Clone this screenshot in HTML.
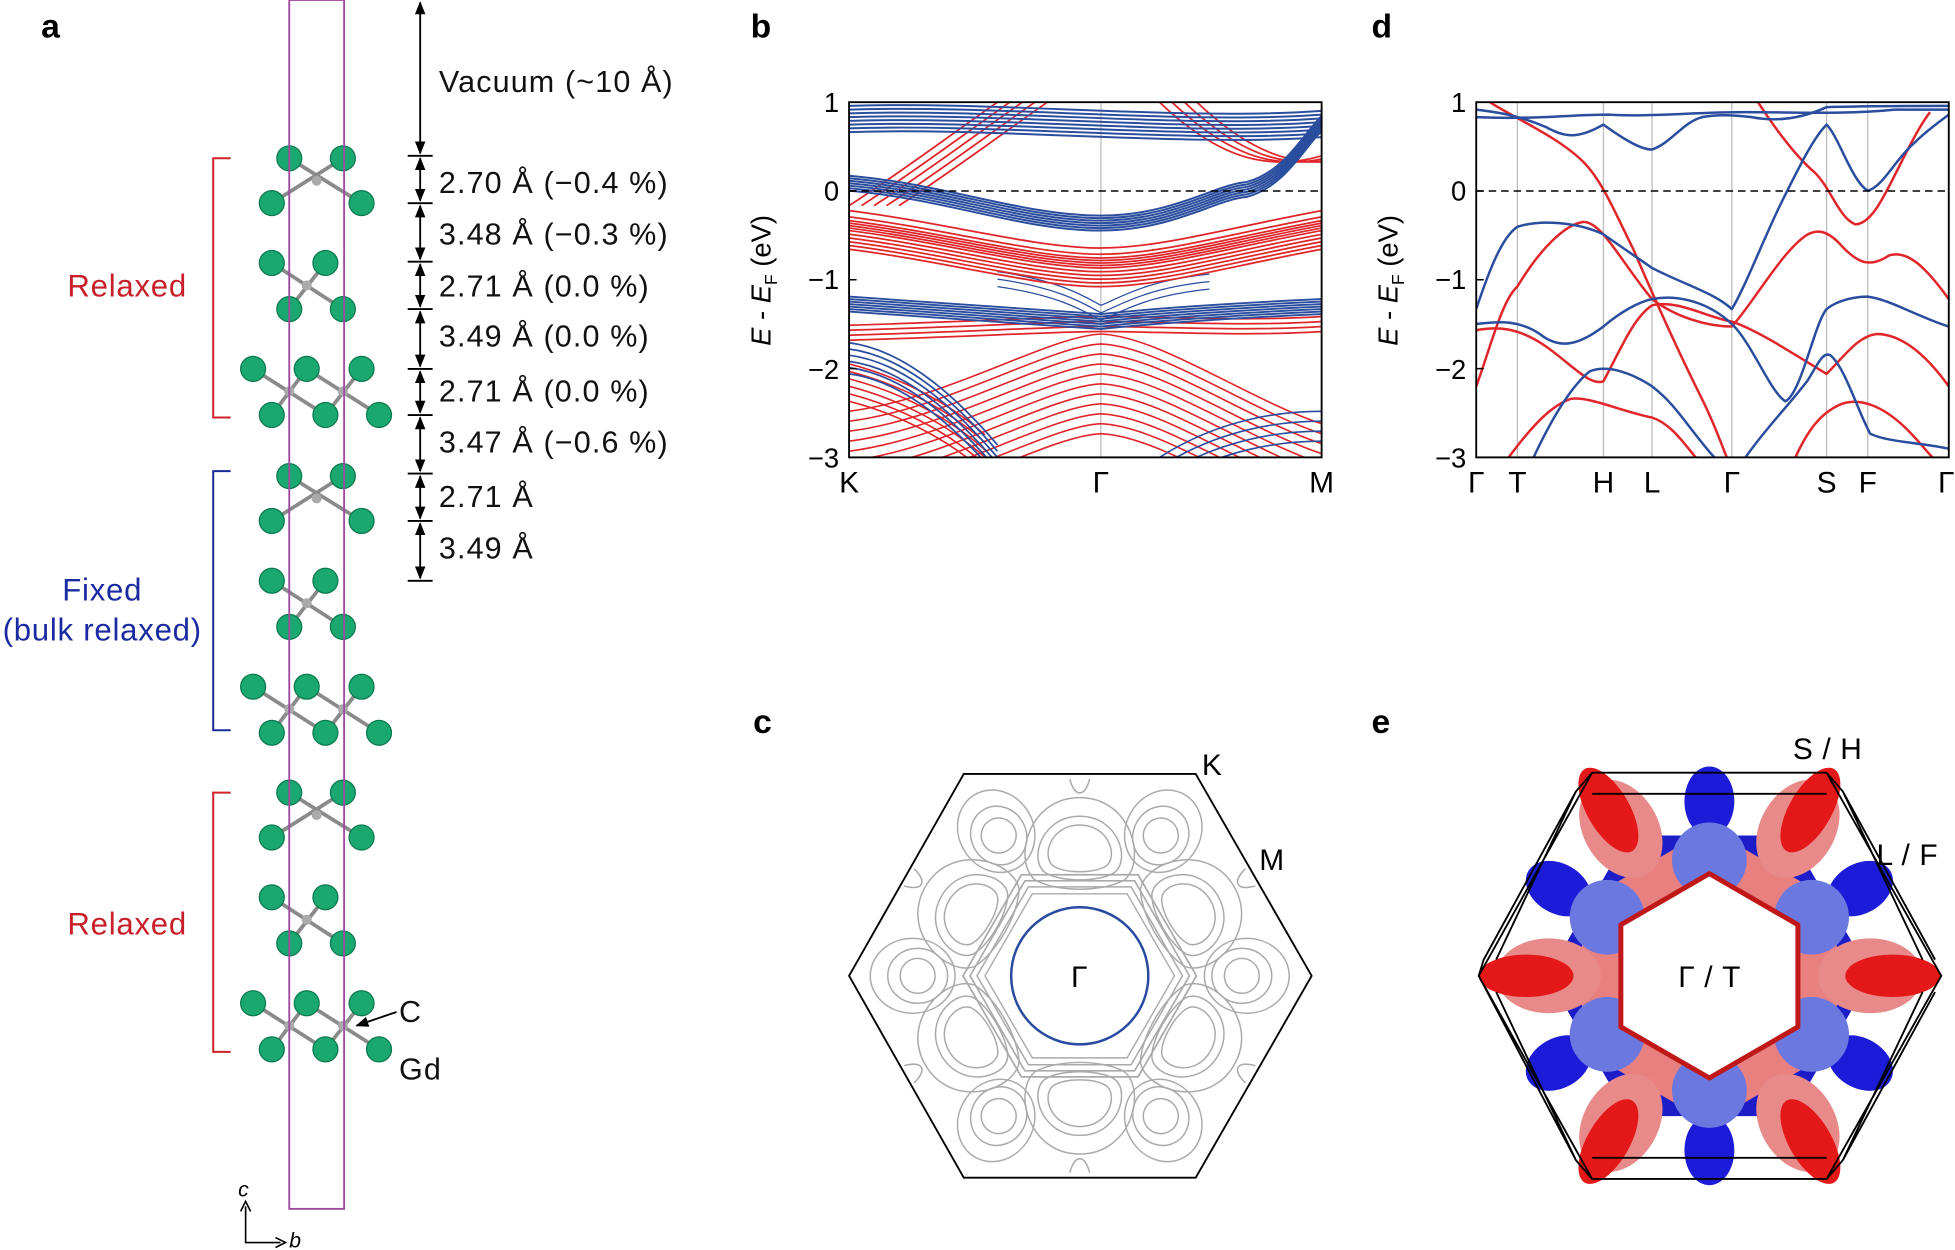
<!DOCTYPE html>
<html><head><meta charset="utf-8"><style>
html,body{margin:0;padding:0;background:#fff;}
svg{display:block;font-family:"Liberation Sans",sans-serif;}
</style></head><body>
<svg width="1955" height="1250" viewBox="0 0 1568 1003" preserveAspectRatio="none" xmlns="http://www.w3.org/2000/svg">
<defs>
<marker id="ah" viewBox="0 0 10 10" refX="9" refY="5" markerWidth="7" markerHeight="7" orient="auto-start-reverse"><path d="M0,1 L10,5 L0,9z" fill="#000"/></marker>
<clipPath id="cb"><rect x="681" y="82" width="379" height="285"/></clipPath>
<clipPath id="cd"><rect x="1184" y="82" width="379" height="285"/></clipPath>
<g id="LS">
 <g stroke="#8a8a8a" stroke-width="3">
  <line x1="232" y1="0" x2="290" y2="36"/><line x1="275" y1="0" x2="218" y2="36"/>
  <line x1="218" y1="84" x2="275" y2="121"/><line x1="261" y1="84" x2="232" y2="121"/>
  <line x1="203" y1="169" x2="261" y2="206"/><line x1="246" y1="169" x2="304" y2="206"/>
  <line x1="246" y1="169" x2="218" y2="206"/><line x1="290" y1="169" x2="261" y2="206"/>
 </g>
 <g fill="#aaa"><circle cx="254" cy="18" r="4"/><circle cx="246" cy="102" r="4"/><circle cx="232" cy="187" r="4"/><circle cx="275" cy="187" r="4"/></g>
 <g fill="#1aa870" stroke="#0c7a4e" stroke-width="1">
  <circle cx="232" cy="0" r="10"/><circle cx="275" cy="0" r="10"/><circle cx="218" cy="36" r="10"/><circle cx="290" cy="36" r="10"/>
  <circle cx="218" cy="84" r="10"/><circle cx="261" cy="84" r="10"/><circle cx="232" cy="121" r="10"/><circle cx="275" cy="121" r="10"/>
  <circle cx="203" cy="169" r="10"/><circle cx="246" cy="169" r="10"/><circle cx="290" cy="169" r="10"/><circle cx="218" cy="206" r="10"/><circle cx="261" cy="206" r="10"/><circle cx="304" cy="206" r="10"/>
 </g>
</g>
<path id="bBlu1" d="M681,143 C760,150 820,175 883,175 C940,175 975,150 1000,148 C1030,140 1045,110 1060,95" fill="none" stroke="#2a4d9e" stroke-width="1.6"/>
<path id="bRed1" d="M681,185 C760,195 830,215 883,215 C930,215 980,200 1060,185" fill="none" stroke="#e0262a" stroke-width="1.4"/>
<path id="bRed2" d="M681,165 C720,140 760,110 800,82" fill="none" stroke="#e0262a" stroke-width="1.4"/>
<path id="bRed3" d="M930,82 C970,120 1010,140 1060,125" fill="none" stroke="#e0262a" stroke-width="1.4"/>
<path id="bBlu2" d="M681,238 C780,245 850,250 883,252 C920,248 990,243 1060,240" fill="none" stroke="#2a4d9e" stroke-width="1.5"/>
<path id="bRed4" d="M681,265 C780,262 850,258 883,258 C930,258 1000,262 1060,258" fill="none" stroke="#e0262a" stroke-width="1.4"/>
<path id="bRed5" d="M681,330 C760,320 840,270 883,268 C930,270 1000,320 1060,340" fill="none" stroke="#e0262a" stroke-width="1.3"/>
<path id="bBlu3" d="M681,285 C720,290 760,320 800,367" fill="none" stroke="#2a4d9e" stroke-width="1.4"/>
<path id="bBlu4" d="M930,367 C980,335 1030,330 1060,330" fill="none" stroke="#2a4d9e" stroke-width="1.3"/>
<path id="bRed6" d="M681,310 C720,320 760,340 790,367" fill="none" stroke="#e0262a" stroke-width="1.3"/>
<path id="bBlu5" d="M681,88 C800,84 950,100 1060,92" fill="none" stroke="#2a4d9e" stroke-width="1.6"/>
<path id="bBlu6" d="M800,218 C850,225 870,238 883,245 C900,238 920,225 970,220" fill="none" stroke="#2a4d9e" stroke-width="1"/>
<path id="hx" d="M946,783 L906,852.3 L826,852.3 L786,783 L826,713.7 L906,713.7Z" fill="none" stroke="#aaa" stroke-width="1.2"/>
</defs>
<rect width="1568" height="1003" fill="#fff"/>
<g font-size="27" font-weight="bold"><text x="33" y="30">a</text><text x="602" y="30">b</text><text x="1100" y="30">d</text><text x="604" y="588">c</text><text x="1100" y="588">e</text></g>

<use href="#LS" transform="translate(0,127)"/>
<use href="#LS" transform="translate(0,382)"/>
<use href="#LS" transform="translate(0,636)"/>
<rect x="232" y="0" width="44" height="970" fill="none" stroke="#a04aa0" stroke-width="1.5"/>
<g stroke="#000" stroke-width="1.5">
<line x1="327" y1="125" x2="347" y2="125"/><line x1="327" y1="163" x2="347" y2="163"/><line x1="327" y1="210" x2="347" y2="210"/><line x1="327" y1="248" x2="347" y2="248"/><line x1="327" y1="296" x2="347" y2="296"/><line x1="327" y1="333" x2="347" y2="333"/><line x1="327" y1="380" x2="347" y2="380"/><line x1="327" y1="418" x2="347" y2="418"/><line x1="327" y1="466" x2="347" y2="466"/>
<g marker-start="url(#ah)" marker-end="url(#ah)">
<line x1="337" y1="2" x2="337" y2="123"/><line x1="337" y1="127" x2="337" y2="161"/><line x1="337" y1="165" x2="337" y2="208"/><line x1="337" y1="212" x2="337" y2="246"/><line x1="337" y1="250" x2="337" y2="294"/><line x1="337" y1="298" x2="337" y2="331"/><line x1="337" y1="335" x2="337" y2="378"/><line x1="337" y1="382" x2="337" y2="416"/><line x1="337" y1="420" x2="337" y2="464"/>
</g></g>
<g font-size="24.5" fill="#111" letter-spacing="0.9">
<text x="352" y="74">Vacuum (~10 Å)</text>
<text x="352" y="155">2.70 Å (−0.4 %)</text>
<text x="352" y="196">3.48 Å (−0.3 %)</text>
<text x="352" y="238">2.71 Å (0.0 %)</text>
<text x="352" y="278">3.49 Å (0.0 %)</text>
<text x="352" y="322">2.71 Å (0.0 %)</text>
<text x="352" y="363">3.47 Å (−0.6 %)</text>
<text x="352" y="407">2.71 Å</text>
<text x="352" y="448">3.49 Å</text>
<text x="320" y="820">C</text><text x="320" y="866">Gd</text>
</g>
<line x1="318" y1="812" x2="286" y2="823" stroke="#000" stroke-width="1.5" marker-end="url(#ah)"/>
<g fill="none" stroke-width="1.6">
<path d="M185,127 H171 V335 H185" stroke="#d0202a"/>
<path d="M185,378 H171 V586 H185" stroke="#1a2a9a"/>
<path d="M185,636 H171 V844 H185" stroke="#d0202a"/>
</g>
<g font-size="25" text-anchor="middle" letter-spacing="0.6"><text x="102" y="238" fill="#c8202a">Relaxed</text><text x="82" y="482" fill="#1a2aa0">Fixed</text><text x="82" y="514" fill="#1a2aa0">(bulk relaxed)</text><text x="102" y="750" fill="#c8202a">Relaxed</text></g>
<g stroke="#000" stroke-width="1.3" fill="none"><path d="M197,968 V997 H225"/><path d="M193,972 l4,-8 l4,8"/><path d="M221,993 l8,4 l-8,4"/></g>
<text x="191" y="960" font-size="17" font-style="italic">c</text><text x="232" y="1001" font-size="17" font-style="italic">b</text>

<g clip-path="url(#cb)">
<line x1="883" y1="82" x2="883" y2="367" stroke="#bbb"/>
<use href="#bRed5"/><use href="#bRed5" y="8"/><use href="#bRed5" y="16"/><use href="#bRed5" y="24"/><use href="#bRed5" y="32"/><use href="#bRed5" y="40"/><use href="#bRed5" y="48"/><use href="#bRed5" y="56"/><use href="#bRed5" y="64"/><use href="#bRed5" y="72"/><use href="#bRed5" y="80"/>
<use href="#bRed6"/><use href="#bRed6" y="6"/><use href="#bRed6" y="12"/><use href="#bRed6" y="-6"/><use href="#bRed6" y="-12"/><use href="#bRed6" y="-18"/>
<use href="#bBlu3"/><use href="#bBlu3" y="5"/><use href="#bBlu3" y="10"/><use href="#bBlu3" y="15"/><use href="#bBlu3" y="-5"/><use href="#bBlu3" y="-10"/>
<use href="#bBlu4"/><use href="#bBlu4" y="8"/><use href="#bBlu4" y="16"/><use href="#bBlu4" y="24"/>
<use href="#bRed4"/><use href="#bRed4" y="4"/><use href="#bRed4" y="8"/><use href="#bRed4" y="-4"/>
<use href="#bBlu6"/><use href="#bBlu6" y="6"/><use href="#bBlu6" y="12"/>
<use href="#bBlu2"/><use href="#bBlu2" y="2"/><use href="#bBlu2" y="4"/><use href="#bBlu2" y="6"/><use href="#bBlu2" y="8"/><use href="#bBlu2" y="10"/><use href="#bBlu2" y="12"/>
<use href="#bRed1" y="-8"/><use href="#bRed1" y="-4"/><use href="#bRed1"/><use href="#bRed1" y="3"/><use href="#bRed1" y="6"/><use href="#bRed1" y="9"/><use href="#bRed1" y="12"/><use href="#bRed1" y="15"/><use href="#bRed1" y="-2"/><use href="#bRed1" y="-6"/><use href="#bRed1" y="-11"/><use href="#bRed1" y="-16"/>
<use href="#bRed2"/><use href="#bRed2" x="10"/><use href="#bRed2" x="20"/><use href="#bRed2" x="30"/><use href="#bRed2" x="40"/>
<use href="#bRed3"/><use href="#bRed3" x="10"/><use href="#bRed3" x="20"/><use href="#bRed3" x="30"/>
<use href="#bBlu1"/><use href="#bBlu1" y="2"/><use href="#bBlu1" y="4"/><use href="#bBlu1" y="6"/><use href="#bBlu1" y="8"/><use href="#bBlu1" y="10"/><use href="#bBlu1" y="-2"/>
<use href="#bBlu5"/><use href="#bBlu5" y="3"/><use href="#bBlu5" y="6"/><use href="#bBlu5" y="9"/><use href="#bBlu5" y="12"/><use href="#bBlu5" y="15"/><use href="#bBlu5" y="18"/><use href="#bBlu5" y="-3"/>
</g>
<rect x="681" y="82" width="379" height="285" fill="none" stroke="#000" stroke-width="1.5"/>

<g clip-path="url(#cd)" fill="none" stroke-width="2" stroke-linejoin="round">
<g stroke="#bbb" stroke-width="1"><line x1="1217" y1="82" x2="1217" y2="367"/><line x1="1286" y1="82" x2="1286" y2="367"/><line x1="1325" y1="82" x2="1325" y2="367"/><line x1="1389" y1="82" x2="1389" y2="367"/><line x1="1465" y1="82" x2="1465" y2="367"/><line x1="1498" y1="82" x2="1498" y2="367"/></g>
<g stroke="#e0262a">
<path d="M1184,310 C1195,280 1205,240 1217,230 C1235,200 1255,180 1270,178 C1285,178 1300,210 1325,240 C1345,255 1370,262 1389,262 C1405,245 1430,200 1450,188 C1458,184 1465,185 1475,195 C1490,212 1500,215 1515,205 C1530,200 1545,215 1563,240"/>
<path d="M1184,265 C1200,262 1217,262 1240,278 C1260,292 1275,310 1286,306 C1300,280 1310,255 1325,245 C1345,240 1370,255 1389,258 C1410,265 1440,285 1465,300 C1480,285 1490,270 1505,268 C1525,268 1545,285 1563,310"/>
<path d="M1195,82 C1215,95 1250,110 1270,130 C1285,145 1295,170 1310,200 C1325,235 1345,280 1365,320 C1375,340 1380,355 1385,367"/>
<path d="M1210,367 C1230,340 1245,325 1260,320 C1275,318 1300,330 1325,335 C1340,340 1350,355 1360,367"/>
<path d="M1410,82 C1425,105 1440,125 1455,138 C1468,150 1475,175 1488,180 C1500,180 1510,160 1520,140 C1530,120 1540,100 1548,90"/>
<path d="M1440,367 C1450,345 1460,332 1475,325 C1490,318 1510,325 1530,345 C1540,355 1545,362 1550,367"/>
</g>
<g stroke="#2a4d9e">
<path d="M1184,248 C1195,215 1205,190 1217,182 C1235,176 1265,178 1286,188 C1300,198 1315,208 1325,215 C1350,228 1375,235 1389,248 C1400,230 1415,190 1430,160 C1445,130 1455,110 1465,100 C1475,110 1485,145 1498,153 C1510,150 1520,128 1535,115 C1545,105 1555,98 1563,92"/>
<path d="M1184,260 C1200,258 1217,256 1235,268 C1250,280 1265,278 1286,262 C1300,250 1315,242 1325,240 C1345,236 1370,242 1389,260 C1405,275 1420,315 1432,322 C1445,315 1455,260 1465,248 C1475,240 1490,238 1498,238 C1515,240 1540,255 1563,262"/>
<path d="M1184,88 C1200,90 1217,92 1240,102 C1255,110 1265,112 1286,100 C1300,110 1315,120 1325,120 C1340,115 1350,98 1365,94 C1375,92 1389,92 1405,94 C1425,98 1445,95 1465,86 C1500,85 1540,85 1563,85"/>
<path d="M1184,94 C1230,96 1260,92 1290,92 C1320,94 1360,90 1400,90 C1440,90 1480,92 1520,88 C1540,88 1555,88 1563,88"/>
<path d="M1230,367 C1245,335 1260,310 1275,298 C1290,292 1310,300 1325,310 C1345,325 1355,345 1375,367"/>
<path d="M1400,367 C1415,345 1435,325 1450,305 C1458,292 1462,282 1468,285 C1480,295 1490,330 1500,348 C1515,355 1540,355 1563,360"/>
</g>
</g>
<rect x="1184" y="82" width="379" height="285" fill="none" stroke="#000" stroke-width="1.5"/>

<g stroke="#000" stroke-width="1.2">
<line x1="681" y1="153.25" x2="1060" y2="153.25" stroke-dasharray="6,4"/>
<line x1="1184" y1="153.25" x2="1563" y2="153.25" stroke-dasharray="6,4"/>
<path d="M681,82h6M681,153.25h6M681,224.5h6M681,295.75h6M681,367h6M1184,82h6M1184,153.25h6M1184,224.5h6M1184,295.75h6M1184,367h6"/>
</g>
<g font-size="22" text-anchor="end">
<text x="673" y="90">1</text><text x="673" y="161">0</text><text x="673" y="232">−1</text><text x="673" y="304">−2</text><text x="673" y="375">−3</text>
<text x="1176" y="90">1</text><text x="1176" y="161">0</text><text x="1176" y="232">−1</text><text x="1176" y="304">−2</text><text x="1176" y="375">−3</text>
</g>
<g font-size="24" text-anchor="middle">
<text x="681" y="395">K</text><text x="883" y="395">Γ</text><text x="1060" y="395">M</text>
<text x="1184" y="395">Γ</text><text x="1217" y="395">T</text><text x="1286" y="395">H</text><text x="1325" y="395">L</text><text x="1389" y="395">Γ</text><text x="1465" y="395">S</text><text x="1498" y="395">F</text><text x="1561" y="395">Γ</text>
</g>
<text transform="translate(618,225) rotate(-90)" font-size="22" text-anchor="middle"><tspan font-style="italic">E</tspan> - <tspan font-style="italic">E</tspan><tspan font-size="14" dy="5">F</tspan><tspan dy="-5"> (eV)</tspan></text>
<text transform="translate(1121,225) rotate(-90)" font-size="22" text-anchor="middle"><tspan font-style="italic">E</tspan> - <tspan font-style="italic">E</tspan><tspan font-size="14" dy="5">F</tspan><tspan dy="-5"> (eV)</tspan></text>

<g fill="none" stroke="#aaa" stroke-width="1.2">
<use href="#hx" transform="translate(866,783) scale(0.95) translate(-866,-783)"/>
<use href="#hx" transform="translate(866,783) scale(1.03) translate(-866,-783)"/>
<use href="#hx" transform="translate(866,783) scale(1.1) translate(-866,-783)"/>
<use href="#hx" transform="translate(866,783) scale(1.17) translate(-866,-783)"/>
<g id="lobe">
<path d="M866,655 C835,655 825,690 838,700 C850,708 882,708 894,700 C907,690 897,655 866,655Z"/>
<path d="M866,662 C842,662 835,688 845,695 C855,701 877,701 887,695 C897,688 890,662 866,662Z"/>
<path d="M866,640 C825,640 812,690 830,706 C848,716 884,716 902,706 C920,690 907,640 866,640Z"/>
<path d="M858,625 C862,640 870,640 874,625"/>
</g>
<use href="#lobe" transform="rotate(60 866 783)"/><use href="#lobe" transform="rotate(120 866 783)"/><use href="#lobe" transform="rotate(180 866 783)"/><use href="#lobe" transform="rotate(240 866 783)"/><use href="#lobe" transform="rotate(300 866 783)"/>
<g id="eg"><ellipse cx="996" cy="783" rx="14" ry="14"/><ellipse cx="996" cy="783" rx="24" ry="22"/><ellipse cx="1000" cy="783" rx="34" ry="30"/></g>
<use href="#eg" transform="rotate(60 866 783)"/><use href="#eg" transform="rotate(120 866 783)"/><use href="#eg" transform="rotate(180 866 783)"/><use href="#eg" transform="rotate(240 866 783)"/><use href="#eg" transform="rotate(300 866 783)"/>
</g>
<path d="M773,621 H959 L1052,783 L959,945 H773 L681,783Z" fill="none" stroke="#000" stroke-width="1.5"/>
<circle cx="866" cy="783" r="55" fill="#fff" stroke="#2a4aa0" stroke-width="2"/>
<g font-size="24"><text x="859" y="792">Γ</text><text x="964" y="622">K</text><text x="1010" y="698">M</text></g>

<path d="M1501,783 L1436,895.6 L1306,895.6 L1241,783 L1306,670.4 L1436,670.4Z" fill="#1c1cc8"/>
<g fill="#1c1cd8">
<ellipse cx="1371" cy="643" rx="20" ry="28"/><ellipse cx="1371" cy="923" rx="20" ry="28"/>
<ellipse cx="1492" cy="713" rx="20" ry="28" transform="rotate(60 1492 713)"/>
<ellipse cx="1492" cy="853" rx="20" ry="28" transform="rotate(120 1492 853)"/>
<ellipse cx="1250" cy="713" rx="20" ry="28" transform="rotate(-60 1250 713)"/>
<ellipse cx="1250" cy="853" rx="20" ry="28" transform="rotate(-120 1250 853)"/>
</g>
<path d="M1473.2,842 L1371,901 L1268.8,842 L1268.8,724 L1371,665 L1473.2,724Z" fill="#e88080"/>
<g fill="#6b78e0">
<circle cx="1453" cy="830" r="30"/><circle cx="1371" cy="875" r="30"/><circle cx="1289" cy="830" r="30"/><circle cx="1289" cy="736" r="30"/><circle cx="1371" cy="690" r="30"/><circle cx="1453" cy="736" r="30"/>
</g>
<g fill="#e88a8a">
<ellipse cx="1500" cy="783" rx="42" ry="30"/><ellipse cx="1242" cy="783" rx="42" ry="30"/>
<ellipse cx="1300" cy="665" rx="42" ry="30" transform="rotate(60 1300 665)"/><ellipse cx="1442" cy="665" rx="42" ry="30" transform="rotate(120 1442 665)"/>
<ellipse cx="1300" cy="901" rx="42" ry="30" transform="rotate(-60 1300 901)"/><ellipse cx="1442" cy="901" rx="42" ry="30" transform="rotate(-120 1442 901)"/>
</g>
<g fill="#e41818">
<ellipse cx="1518" cy="783" rx="38" ry="17"/><ellipse cx="1224" cy="783" rx="38" ry="17"/>
<ellipse cx="1290" cy="650" rx="38" ry="17" transform="rotate(60 1290 650)"/><ellipse cx="1452" cy="650" rx="38" ry="17" transform="rotate(120 1452 650)"/>
<ellipse cx="1290" cy="916" rx="38" ry="17" transform="rotate(-60 1290 916)"/><ellipse cx="1452" cy="916" rx="38" ry="17" transform="rotate(-120 1452 916)"/>
</g>
<path d="M1442,824 L1371,865 L1300,824 L1300,742 L1371,701 L1442,742Z" fill="#fff" stroke="#c01818" stroke-width="4" stroke-linejoin="round"/>
<path d="M1277,620 H1465 L1557,783 L1465,946 H1277 L1186,783Z M1277,637 H1465 M1277,929 H1465 M1277,620 L1264,635 L1190,770 L1186,783 M1465,620 L1478,635 L1552,770 M1264,635 L1200,770 M1186,783 L1264,931 L1277,946 M1552,796 L1478,931 L1465,946 M1478,635 L1542,770 M1200,796 L1264,931 M1542,796 L1478,931" fill="none" stroke="#000" stroke-width="1.5"/>
<g font-size="24" letter-spacing="0.5"><text x="1346" y="792">Γ / T</text><text x="1438" y="609">S / H</text><text x="1505" y="694">L / F</text></g>
</svg>
</body></html>
